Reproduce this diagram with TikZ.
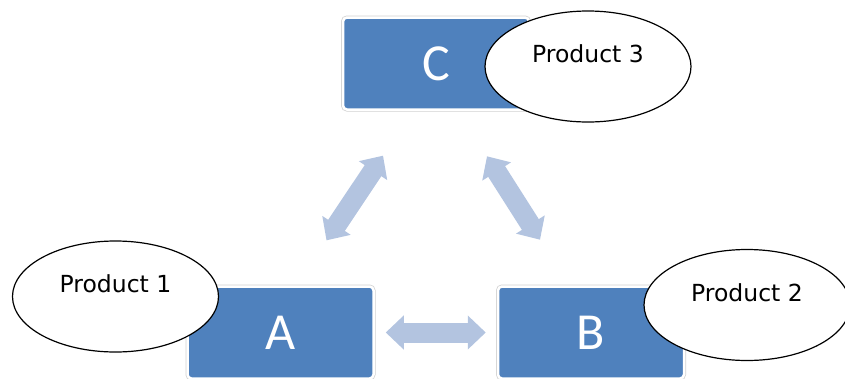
\documentclass[tikz,border=0pt]{standalone}
\usepackage{fontspec}
\setmainfont{DejaVu Sans}
\newfontfamily\boxfont{Carlito}
\usetikzlibrary{arrows.meta,shapes.geometric}
\definecolor{boxblue}{RGB}{79,129,189}
\definecolor{arrowblue}{RGB}{179,196,224}
\tikzset{
	boxnode/.style={rectangle, rounded corners=4pt, fill=boxblue, draw=white, line width=2.5pt,
		preaction={draw=black!18, line width=4pt}, minimum width=186pt, minimum height=92pt,
		inner sep=0pt, text=white, font=\boxfont\fontsize{52}{60}\selectfont},
	prodnode/.style={ellipse, draw=black, fill=white, line width=1.2pt, minimum width=206pt,
		minimum height=111pt, inner sep=0pt, text height=17pt, text depth=25pt,
		font=\fontsize{23.5}{28}\selectfont},
	linkarrow/.style={draw=arrowblue, line width=20pt,
		{Triangle[width=33pt,length=18pt]}-{Triangle[width=33pt,length=18pt]}}
}

\begin{document}
\begin{tikzpicture}[x=1pt, y=-1pt]
			%%%%% START %%%%%
			\useasboundingbox (0, 0) rectangle (845, 378);
			\clip (0, 0) rectangle (845, 378);
			
			% the three blue boxes
			\node[boxnode] (boxc) at (436, 63.5) {C};
			\node[boxnode] (boxa) at (280.5, 332.5) {A};
			\node[boxnode] (boxb) at (591, 332.5) {B};
			
			% double arrows between the boxes
			\draw[linkarrow, shorten <=54pt, shorten >=54pt] ([xshift=16pt]boxa.north) -- ([xshift=-23pt]boxc.south);
			\draw[linkarrow, shorten <=54pt, shorten >=54pt] ([xshift=22pt]boxc.south) -- ([xshift=-22pt]boxb.north);
			\draw[linkarrow, shorten <=11pt, shorten >=11pt] (boxa.east) -- (boxb.west);
			
			% product callouts
			\node[prodnode] (prod1) at (115.5, 296.5) {Product 1};
			\node[prodnode] (prod2) at (747, 305) {Product 2};
			\node[prodnode] (prod3) at (588, 66.5) {Product 3};
			
			%%%%% END %%%%%
\end{tikzpicture}
\end{document}
